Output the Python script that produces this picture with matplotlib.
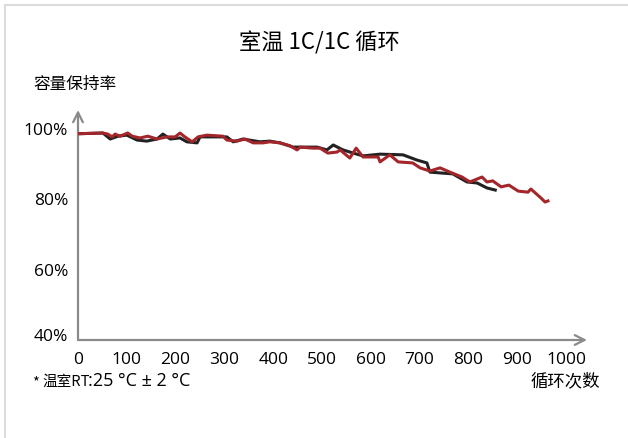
import matplotlib
matplotlib.use("Agg")
import matplotlib.pyplot as plt
from matplotlib.lines import Line2D
from matplotlib.transforms import ScaledTranslation

plt.rcParams['font.family'] = ['Noto Sans CJK SC', 'DejaVu Sans']

# Data (cycle number, capacity retention %)
red_cycles = [0, 51, 61, 70, 76, 86, 102, 111, 127, 143, 162, 182, 199, 209, 219, 234, 246, 264,
              297, 305, 326, 342, 359, 379, 393, 414, 434, 449, 455, 482, 496, 512, 531, 537,
              557, 570, 584, 615, 619, 639, 656, 686, 701, 721, 742, 762, 787, 803, 828, 838,
              850, 867, 883, 902, 922, 928, 949, 957, 963]
red_values = [98.6, 98.8, 98.5, 97.7, 98.5, 97.9, 98.8, 97.9, 97.4, 97.9, 97.1, 97.7, 97.7, 98.8,
              97.7, 96.3, 97.7, 98.2, 97.9, 96.8, 96.5, 97.1, 96.0, 96.0, 96.3, 96.0, 95.2, 94.0,
              94.8, 94.5, 94.5, 93.1, 93.4, 94.0, 91.7, 94.5, 92.0, 92.0, 90.6, 92.6, 90.6, 90.3,
              88.9, 88.0, 88.9, 87.7, 86.3, 84.9, 86.3, 84.9, 85.2, 83.5, 84.0, 82.3, 82.0, 82.9,
              80.3, 79.2, 79.5]

black_cycles = [0, 51, 66, 82, 100, 121, 141, 162, 174, 189, 209, 223, 244, 250, 277, 305, 318,
                338, 373, 393, 414, 441, 461, 490, 510, 523, 543, 564, 584, 619, 666, 695, 715,
                721, 748, 768, 783, 797, 818, 838, 855]
black_values = [98.6, 98.8, 97.1, 97.9, 98.2, 96.8, 96.5, 97.1, 98.5, 97.1, 97.4, 96.3, 96.0, 97.7,
                97.7, 97.7, 96.3, 97.1, 96.3, 96.5, 96.0, 94.8, 94.8, 94.8, 94.0, 95.4, 94.0, 93.1,
                92.3, 92.8, 92.6, 91.1, 90.3, 87.7, 87.4, 87.2, 86.0, 84.9, 84.6, 83.2, 82.6]

x_ticks = [0, 100, 200, 300, 400, 500, 600, 700, 800, 900, 1000]
y_ticks = [40, 60, 80, 100]
y_tick_labels = ['40%', '60%', '80%', '100%']

W, H = 628, 438
fig = plt.figure(figsize=(W / 100, H / 100), dpi=100)
fig.patch.set_facecolor('white')

# light frame lines (top and left)
fig.add_artist(Line2D([5 / W, 1], [1 - 5 / H, 1 - 5 / H], transform=fig.transFigure,
                      color='#dcdcdc', lw=1.5))
fig.add_artist(Line2D([5 / W, 5 / W], [0, 1 - 5 / H], transform=fig.transFigure,
                      color='#dcdcdc', lw=1.5))

ax_left, ax_right = 78, 587
ax_bottom, ax_top = 340, 110
ax = fig.add_axes([ax_left / W, 1 - ax_bottom / H, (ax_right - ax_left) / W, (ax_bottom - ax_top) / H])
xmax = (ax_right - ax_left) / 0.488
ymax = 40 + (ax_bottom - ax_top) / 3.52
ax.set_xlim(0, xmax)
ax.set_ylim(40, ymax)
ax.patch.set_alpha(0)

ax.plot(black_cycles, black_values, color='#222222', lw=2.2, solid_joinstyle='round', zorder=3)
ax.plot(red_cycles, red_values, color='#a3262b', lw=2.2, solid_joinstyle='round', zorder=4)

for s in ax.spines.values():
    s.set_visible(False)

axis_color = '#8a8a8a'
ax.annotate('', xy=(1, 0), xytext=(0, 0), xycoords='axes fraction',
            arrowprops=dict(arrowstyle='->,head_length=0.7,head_width=0.35', color=axis_color,
                            lw=1.6, shrinkA=0, shrinkB=0), annotation_clip=False)
ax.annotate('', xy=(0, 1), xytext=(0, 0), xycoords='axes fraction',
            arrowprops=dict(arrowstyle='->,head_length=0.7,head_width=0.35', color=axis_color,
                            lw=1.6, shrinkA=0, shrinkB=0), annotation_clip=False)

latin = ['Open Sans', 'DejaVu Sans']
ax.set_xticks(x_ticks)
ax.set_xticklabels([str(t) for t in x_ticks], family=latin)
ax.set_yticks(y_ticks)
ax.set_yticklabels(y_tick_labels, family=latin)
ax.tick_params(axis='both', length=0, labelsize=12.5, colors='black')
ax.tick_params(axis='x', pad=9)
ax.tick_params(axis='y', pad=7)
lbl40 = ax.get_yticklabels()[0]
lbl40.set_transform(lbl40.get_transform() + ScaledTranslation(0, 5 / 100, fig.dpi_scale_trans))

fig.text(319 / W, 1 - 43 / H, '室温 1C/1C 循环', ha='center', va='center', fontsize=16)
fig.text(75 / W, 1 - 84 / H, '容量保持率', ha='center', va='center', fontsize=12)
fig.text(600 / W, 1 - 381 / H, '循环次数', ha='right', va='center', fontsize=12.5)
fig.text(32 / W, 1 - 382 / H, '*', ha='left', va='center', fontsize=10.5)
fig.text(42 / W, 1 - 382 / H, '温室RT', ha='left', va='center', fontsize=10.5)
fig.text(88 / W, 1 - 381 / H, ':25 °C ± 2 °C', ha='left', va='center', fontsize=13, family=latin)

fig.savefig('out.png', dpi=100)
